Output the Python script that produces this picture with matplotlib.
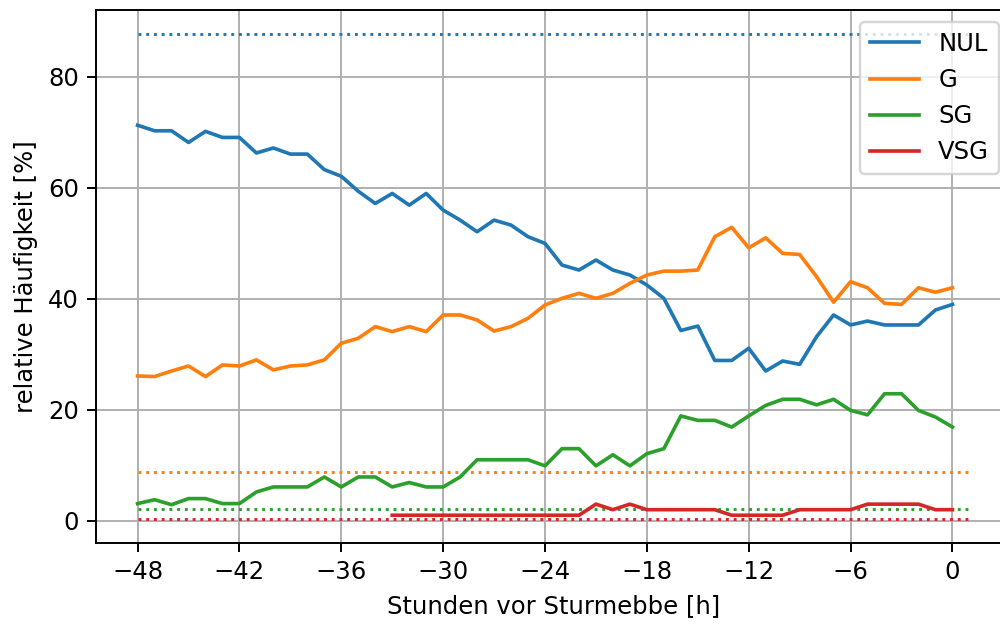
import numpy as np
import matplotlib
matplotlib.use('Agg')
import matplotlib.pyplot as plt

# hours before storm ebb
hours = np.arange(-48, 1)

nul = [71.3, 70.3, 70.3, 68.2, 70.2, 69.1, 69.1, 66.3, 67.2, 66.1, 66.1, 63.3,
       62.1, 59.4, 57.2, 59.0, 56.9, 59.0, 56.0, 54.2, 52.1, 54.2, 53.3, 51.2,
       50.0, 46.1, 45.2, 47.0, 45.2, 44.3, 42.5, 40.1, 34.3, 35.1, 28.9, 28.9,
       31.1, 27.0, 28.8, 28.2, 33.2, 37.1, 35.3, 36.0, 35.3, 35.3, 35.3, 38.0,
       39.0]
g = [26.1, 26.0, 27.0, 27.9, 26.0, 28.1, 27.9, 29.0, 27.2, 27.9, 28.1, 29.0,
     32.0, 32.9, 35.0, 34.1, 35.0, 34.1, 37.1, 37.1, 36.2, 34.2, 35.0, 36.5,
     38.9, 40.1, 41.0, 40.1, 41.0, 42.8, 44.3, 45.0, 45.0, 45.2, 51.2, 52.9,
     49.2, 51.0, 48.2, 48.0, 44.0, 39.4, 43.1, 42.0, 39.2, 39.0, 42.0, 41.2,
     42.0]
sg = [3.1, 3.8, 2.9, 4.0, 4.0, 3.1, 3.1, 5.2, 6.1, 6.1, 6.1, 7.9,
      6.1, 7.9, 7.9, 6.1, 6.9, 6.1, 6.1, 7.9, 11.0, 11.0, 11.0, 11.0,
      9.9, 13.0, 13.0, 9.9, 11.9, 9.9, 12.1, 13.0, 18.9, 18.1, 18.1, 16.9,
      18.9, 20.8, 21.9, 21.9, 20.9, 21.9, 19.9, 19.1, 22.9, 22.9, 19.9, 18.7,
      16.9]
vsg = [np.nan] * 15 + [1] * 12 + [3, 2, 3] + [2] * 5 + [1] * 4 + [2] * 4 \
    + [3] * 4 + [2, 2]

# reference levels (dotted)
ref_x = [-48, 1]
ref_levels = [87.7, 8.8, 2.2, 0.3]

labels = ['NUL', 'G', 'SG', 'VSG']
colors = ['C0', 'C1', 'C2', 'C3']

DPI = 175
fig = plt.figure(figsize=(1000 / DPI, 626 / DPI), dpi=DPI)
ax = fig.add_axes([0.096, 0.132, 0.915, 0.852])

for series, lab, col, lev in zip([nul, g, sg, vsg], labels, colors, ref_levels):
    ax.plot(hours, series, color=col, label=lab)
    ax.plot(ref_x, [lev, lev], color=col, linestyle=':', linewidth=1.2)

ax.set_xticks(np.arange(-48, 1, 6))
ax.set_xlabel('Stunden vor Sturmebbe [h]')
ax.set_ylabel('relative Häufigkeit [%]')
ax.grid(True)
ax.legend(loc='upper right')

fig.savefig('out.png', dpi=DPI)
